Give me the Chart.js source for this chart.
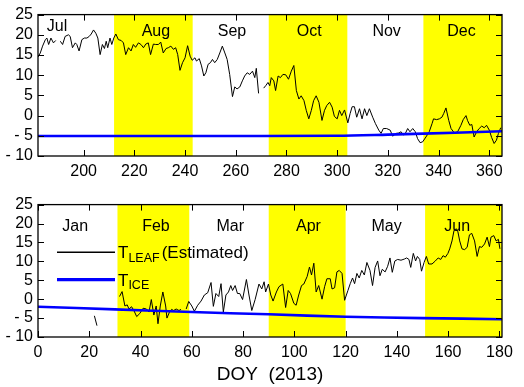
<!DOCTYPE html>
<html>
<head>
<meta charset="utf-8">
<script src="https://cdn.jsdelivr.net/npm/chart.js@4.4.0/dist/chart.umd.min.js"></script>
<style>
  html, body { margin: 0; padding: 0; background: #fff; }
  #wrap { position: relative; width: 524px; height: 387px; }
  canvas { position: absolute; left: 0; }
</style>
</head>
<body>
<div id="wrap">
  <canvas id="late" width="524" height="190" style="top:0"></canvas>
  <canvas id="early" width="524" height="197" style="top:190px"></canvas>
</div>
<script>
// Jul-Dec 2013 (DOY 182-365), estimated leaf temperature
const lateDays = [
  182.0, 182.9, 183.8, 184.9, 185.5, 186.2, 187.1, 188.1, 189.0, 190.0,
  190.8, 191.7, 192.7, 194.0, 194.7, 195.6, 196.7, 197.3, 198.2, 199.3,
  200.3, 201.3, 202.2, 203.0, 203.9, 204.8, 205.6, 206.5, 207.4, 208.2,
  208.9, 209.5, 210.4, 211.1, 211.9, 212.7, 213.7, 214.8, 215.7, 216.6,
  217.7, 218.7, 219.6, 220.5, 221.6, 222.6, 223.6, 224.5, 225.5, 226.4,
  227.5, 228.4, 229.5, 230.4, 231.4, 232.5, 233.4, 234.4, 235.4, 236.3,
  237.1, 238.0, 239.0, 240.0, 241.0, 242.0, 242.8, 243.9, 244.5, 245.6,
  246.5, 247.4, 248.2, 249.1, 250.0, 250.8, 251.7, 252.7, 253.7, 254.7,
  255.7, 256.6, 257.6, 258.7, 259.6, 260.5, 261.6, 262.6, 263.5, 264.5,
  265.5, 266.6, 267.5, 268.1, 269.0, 270.0,
  271.0, 271.8, 272.7, 273.4, 274.0, 275.0, 275.7, 276.7, 277.6, 278.6,
  279.7, 280.8, 281.9, 282.9, 283.9, 284.9, 285.8, 286.9, 287.8, 288.8,
  289.8, 290.7, 291.7, 292.8, 294.0, 295.0, 295.9, 297.0, 298.0, 298.9,
  300.0, 300.9, 301.8, 302.9, 304.2, 305.1, 305.9, 306.8, 307.7, 308.8,
  309.8, 310.8, 311.7, 312.7, 314.0, 315.1, 316.4, 317.3, 318.2, 319.5,
  320.9, 321.9, 323.2, 324.3, 325.2, 326.1, 326.9, 327.8, 328.7, 329.8,
  330.8, 331.7, 332.7, 333.7, 335.0, 336.3, 337.4, 338.0, 339.2, 340.3,
  341.3, 342.0, 342.9, 344.0, 344.9, 346.2, 347.5, 348.8, 349.7, 350.8,
  351.4, 352.3, 353.1, 354.0, 355.0, 356.0, 357.0, 358.0, 358.9, 360.0,
  360.9, 361.9, 362.8, 363.6, 364.5
];
const lateLeaf = [
  14.5, 15.5, 17.2, 18.8, 19.2, 17.6, 19.2, 18.0, 18.6, null,
  18.4, 17.6, 19.6, 20.0, 19.6, 16.8, 18.0, 17.6, 16.0, 18.8,
  19.2, 19.2, 19.6, 20.2, 21.2, 20.4, 19.2, 15.1, 17.6, 16.6,
  18.4, 16.8, 19.2, 17.6, 19.2, 20.2, 18.8, 18.6, 18.0, 15.1,
  16.8, 16.0, 17.6, 16.9, 18.0, 17.6, 16.8, 17.7, 18.0, 15.1,
  17.7, 17.6, 17.6, 18.2, 15.5, 16.6, 16.8, 17.2, 16.4, 16.8,
  15.1, 11.2, 13.1, 14.3, 17.3, 14.7, 13.7, 14.3, 13.5, 14.1,
  12.3, 9.8, 10.6, 12.7, 13.1, 13.9, 13.1, 13.9, 15.5, 17.2,
  15.5, 13.9, 10.2, 4.7, 7.1, 6.6, 7.1, 8.6, 9.8, 10.6,
  10.2, 11.0, 9.4, 11.7, 5.5, null,
  6.8, 7.4, 8.2, 7.4, 9.4, 8.6, 6.2, 9.8, 9.4, 10.2,
  10.1, 9.0, 11.0, 12.4, 6.2, 4.1, 4.9, 3.7, 1.3, -0.8,
  1.3, 3.7, 4.9, 3.3, -1.2, 1.3, 2.5, 3.3, 2.1, -0.2,
  -0.8, 1.3, 0.0, 1.4, -1.8, 0.5, 2.2, 2.2, -0.4, 1.7,
  -0.8, 1.7, 0.0, 1.7, -0.4, -2.0, -3.6, -4.4, -3.2, -3.2,
  -3.6, -5.1, -4.4, -4.3, -4.0, -4.8, -4.4, -3.2, -4.0, -3.2,
  -4.0, -5.7, -6.7, -6.5, -5.3, -4.0, -2.0, -0.8, -1.0, -0.8,
  -0.4, 0.5, 1.9, -1.2, -3.2, -4.3, -4.0, -2.4, -1.0, 0.0,
  -1.2, -2.4, -2.2, -5.3, -4.0, -3.2, -2.6, -3.0, -2.4, -3.6,
  -5.4, -6.9, -6.1, -4.4, -3.0
];
const lateIceDays = [182, 240, 300, 320, 334, 365];
const lateIce = [-5.05, -5.05, -5.0, -4.7, -4.45, -3.88];

// Jan-Jun 2013 (DOY 0-181)
const earlyDays = [
  22.0, 23.0, 27.0,
  31.8, 32.8, 33.9, 34.8, 35.5, 36.5, 37.4, 38.5, 39.7, 41.0,
  42.3, 43.3, 44.2, 45.2, 46.1, 46.8, 47.7, 48.7, 49.8, 50.3,
  51.3, 52.1, 52.9, 53.9, 55.0, 55.8, 56.8, 57.8, 58.8, 60.0,
  61.0, 62.3, 63.6, 64.9, 66.2, 67.5, 68.4, 69.4, 70.5, 71.4, 72.3,
  73.3, 74.3, 75.2, 75.9, 76.9, 77.8, 78.7, 79.8, 81.3, 82.3,
  83.4, 84.7, 86.2, 87.3, 88.2, 88.8, 89.9, 90.8, 91.7, 93.0,
  94.0, 95.5, 96.6, 97.6, 98.5, 99.8, 100.7, 101.7, 102.8, 103.7,
  105.0, 105.9, 106.7, 107.6, 108.5, 109.5, 110.8, 111.8, 112.7, 114.0,
  114.7, 115.7, 116.6, 117.5, 118.6, 119.6, 120.9, 121.8, 122.7, 123.5,
  124.4, 125.3, 126.3, 127.3, 128.3, 129.5, 130.5, 131.5, 132.5, 133.4,
  134.3, 135.4, 136.4, 137.3, 138.2, 139.2, 140.3, 141.6, 142.9, 143.8,
  144.7, 145.4, 146.4, 147.3, 148.0, 148.9, 149.6, 150.6, 151.5, 152.4,
  153.7, 155.0, 156.1, 157.1, 158.0, 158.9, 159.9, 160.6, 161.5, 162.3,
  163.2, 163.8, 164.5, 165.4, 166.4, 167.4, 168.3, 169.2, 170.3, 171.3,
  172.2, 173.1, 174.2, 175.2, 176.1, 176.7, 177.8, 178.7, 179.6, 180.2
];
const earlyLeaf = [
  -4.4, -7.0, null,
  0.7, 2.0, -1.8, -1.5, -2.6, -2.0, -3.0, -4.6, -3.8, -2.4,
  -2.6, -3.4, -0.1, -4.2, -1.8, -6.5, -1.8, 1.9, -1.8, -5.0,
  -3.4, -2.7, -3.0, -2.6, -3.0, -2.7, null, -2.6, -0.6, -1.8,
  -3.2, -1.6, -0.5, 1.1, 1.7, 4.4, -1.9, 1.5, 0.7, 4.1, -3.4,
  1.1, 1.9, 3.6, 2.3, 3.6, 1.5, 1.5, -0.1, 5.2, 1.1,
  -3.0, -0.1, 4.0, 2.7, 4.6, 1.9, 4.0, 1.1, -0.5, 1.9,
  3.3, 4.0, -2.2, 2.3, 1.5, -1.1, -1.6, 1.1, 3.6, 4.0,
  6.0, 8.5, 6.4, 9.5, 1.9, 3.6, 0.0, 3.3, 5.4, 5.4,
  2.7, 3.0, 7.2, 7.6, 6.8, -0.3, 2.3, 4.1, 5.6, 4.1,
  6.8, 5.6, 7.6, 6.4, 9.7, 7.6, 3.6, 8.4, 10.1, 6.2,
  7.9, 7.2, 8.7, 10.9, 7.1, 10.1, 10.5, 10.3, 10.6, 10.9,
  10.5, 8.4, 12.1, 10.1, 11.3, 10.5, 7.4, 9.7, 11.3, 9.3,
  9.3, 10.1, 10.9, 10.5, 11.5, 11.1, 12.1, 13.3, 15.4, 18.2,
  18.6, 17.8, 15.4, 13.3, 13.1, 13.7, 17.0, 17.4, 15.4, 11.3,
  13.9, 13.7, 14.6, 16.4, 13.9, 16.4, 16.8, 15.4, 15.8, 13.3
];
const earlyIceDays = [0, 30, 60, 90, 120, 150, 181];
const earlyIce = [-2.0, -2.7, -3.4, -4.0, -4.65, -5.0, -5.3];

const lateMonths = ['Jul', 'Aug', 'Sep', 'Oct', 'Nov', 'Dec'];
const lateMonthCentres = [189.5, 228.5, 258.5, 289, 319.5, 349];
const lateShaded = [[212, 243], [273, 304], [334, 365]];
const earlyMonths = ['Jan', 'Feb', 'Mar', 'Apr', 'May', 'Jun'];
const earlyMonthCentres = [14.5, 46, 75, 105.5, 136, 163.5];
const earlyShaded = [[31, 59], [90, 120], [151, 181]];

const FONT = '"Liberation Sans", Arial, Helvetica, sans-serif';
Chart.defaults.font.family = FONT;
Chart.defaults.font.size = 16;
Chart.defaults.color = '#000';

function points(xs, ys) {
  return xs.map((x, i) => ({ x: x, y: ys[i] }));
}

// yellow month bands, month names, and the boxed frame with inward ticks
const monthFrame = {
  id: 'monthFrame',
  beforeDatasetsDraw(chart, args, opts) {
    const { ctx, chartArea: a, scales: { x } } = chart;
    ctx.save();
    ctx.fillStyle = '#ffff00';
    opts.shaded.forEach(([s, e]) => {
      const x0 = x.getPixelForValue(s), x1 = x.getPixelForValue(e);
      ctx.fillRect(x0, a.top, x1 - x0, a.bottom - a.top);
    });
    ctx.fillStyle = '#000';
    ctx.font = '16px ' + FONT;
    ctx.textAlign = 'center';
    ctx.textBaseline = 'alphabetic';
    opts.months.forEach((m, i) => {
      ctx.fillText(m, x.getPixelForValue(opts.centres[i]), a.top + opts.baselines[i]);
    });
    ctx.restore();
  },
  afterDatasetsDraw(chart) {
    const { ctx, chartArea: a, scales: { x, y } } = chart;
    const len = 6;
    ctx.save();
    ctx.strokeStyle = '#000';
    ctx.lineWidth = 1;
    ctx.beginPath();
    x.ticks.forEach(t => {
      const px = Math.round(x.getPixelForValue(t.value)) + 0.5;
      ctx.moveTo(px, a.bottom); ctx.lineTo(px, a.bottom - len);
      ctx.moveTo(px, a.top); ctx.lineTo(px, a.top + len);
    });
    y.ticks.forEach(t => {
      const py = Math.round(y.getPixelForValue(t.value)) + 0.5;
      ctx.moveTo(a.left, py); ctx.lineTo(a.left + len, py);
      ctx.moveTo(a.right, py); ctx.lineTo(a.right - len, py);
    });
    ctx.stroke();
    ctx.lineWidth = 1.3;
    ctx.strokeRect(a.left, a.top, a.right - a.left, a.bottom - a.top);
    ctx.restore();
  }
};

// legend with subscripts (T_LEAF, T_ICE)
const subLegend = {
  id: 'subLegend',
  afterDatasetsDraw(chart, args, opts) {
    if (!opts.items) return;
    const { ctx, chartArea: a } = chart;
    ctx.save();
    ctx.textAlign = 'left';
    ctx.textBaseline = 'alphabetic';
    ctx.fillStyle = '#000';
    opts.items.forEach((item, i) => {
      const ds = chart.data.datasets[item.dataset];
      const y = a.top + opts.top + i * opts.spacing;
      const x0 = a.left + opts.left;
      ctx.strokeStyle = ds.borderColor;
      ctx.lineWidth = ds.borderWidth + 0.5;
      ctx.beginPath();
      ctx.moveTo(x0, y);
      ctx.lineTo(x0 + opts.lineLength, y);
      ctx.stroke();
      let tx = x0 + opts.lineLength + 3;
      ctx.font = '17px ' + FONT;
      ctx.fillText(item.main, tx, y + 6);
      tx += ctx.measureText(item.main).width;
      ctx.font = '12.5px ' + FONT;
      ctx.fillText(item.sub, tx, y + 9.5);
      tx += ctx.measureText(item.sub).width + 2;
      if (item.rest) {
        ctx.font = '17px ' + FONT;
        ctx.fillText(item.rest, tx, y + 6);
      }
    });
    ctx.restore();
  }
};

function tempAxis() {
  return {
    type: 'linear',
    min: -10,
    max: 25,
    grid: { display: false, drawTicks: false },
    border: { display: false },
    ticks: {
      stepSize: 5,
      padding: 5,
      autoSkip: false,
      callback: v => (v < 0 ? '- ' + (-v) : String(v))
    },
    afterFit: s => { s.width = 38; }
  };
}

function makeChart(id, cfg) {
  return new Chart(document.getElementById(id), {
    type: 'line',
    data: {
      datasets: [
        {
          label: 'TICE',
          data: points(cfg.iceDays, cfg.ice),
          borderColor: '#0000ff',
          borderWidth: 2.6,
          pointRadius: 0,
          tension: 0.3,
          order: 0
        },
        {
          label: 'TLEAF (Estimated)',
          data: points(cfg.days, cfg.leaf),
          borderColor: '#000',
          borderWidth: 1,
          pointRadius: 0,
          tension: 0,
          spanGaps: false,
          order: 1
        }
      ]
    },
    options: {
      responsive: false,
      devicePixelRatio: 1,
      animation: false,
      layout: { padding: { left: 0, right: 22, top: cfg.padTop, bottom: 0 } },
      scales: {
        x: {
          type: 'linear',
          min: cfg.xMin,
          max: cfg.xMax,
          grid: { display: false, drawTicks: false },
          border: { display: false },
          ticks: { stepSize: 20, includeBounds: false, padding: 6, maxRotation: 0, autoSkip: false },
          title: cfg.title,
          afterFit: s => { s.height = cfg.xHeight; }
        },
        y: tempAxis()
      },
      plugins: {
        legend: { display: false },
        tooltip: { enabled: false },
        monthFrame: {
          months: cfg.months,
          centres: cfg.centres,
          shaded: cfg.shaded,
          baselines: cfg.baselines
        },
        subLegend: cfg.legend || {}
      }
    },
    plugins: [monthFrame, subLegend]
  });
}

makeChart('late', {
  days: lateDays, leaf: lateLeaf, iceDays: lateIceDays, ice: lateIce,
  xMin: 182, xMax: 365, padTop: 13, xHeight: 34,
  months: lateMonths, centres: lateMonthCentres, shaded: lateShaded,
  baselines: [16, 21, 21, 21, 21, 21],
  title: { display: false }
});

makeChart('early', {
  days: earlyDays, leaf: earlyLeaf, iceDays: earlyIceDays, ice: earlyIce,
  xMin: 0, xMax: 181, padTop: 4, xHeight: 50,
  months: earlyMonths, centres: earlyMonthCentres, shaded: earlyShaded,
  baselines: [26, 26, 26, 26, 26, 26],
  title: { display: true, text: 'DOY  (2013)', font: { size: 19 }, padding: { top: 0, bottom: 1 } },
  legend: {
    left: 19, top: 47.7, spacing: 27.3, lineLength: 58,
    items: [
      { dataset: 1, main: 'T', sub: 'LEAF', rest: '(Estimated)' },
      { dataset: 0, main: 'T', sub: 'ICE' }
    ]
  }
});
</script>
</body>
</html>
